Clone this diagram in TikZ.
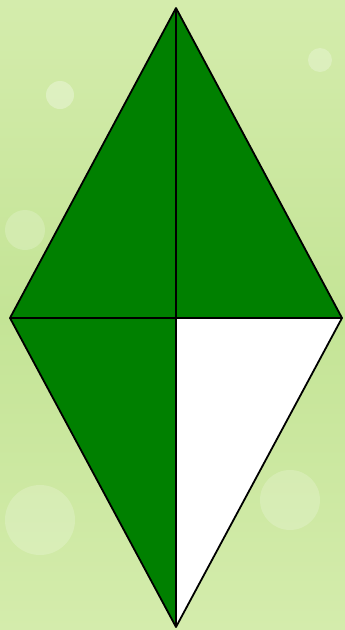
\documentclass[tikz,border=0pt]{standalone}
\usetikzlibrary{calc}
\definecolor{leafgreen}{RGB}{0,128,0}
\definecolor{bglight}{RGB}{222,242,190}
\definecolor{bgmid}{RGB}{212,236,172}
\definecolor{bgdark}{RGB}{196,228,150}
\begin{document}
\begin{tikzpicture}[x=1pt,y=-1pt,line join=round,
    edge/.style={line width=1.8pt,black}]
    % background
    \shade[top color=bgmid,bottom color=bgmid,middle color=bgdark] (0,0) rectangle (345,630);
    \fill[white,opacity=.3] (60,95) circle (14);
    \fill[white,opacity=.25] (320,60) circle (12);
    \fill[white,opacity=.2] (290,500) circle (30);
    \fill[white,opacity=.2] (40,520) circle (35);
    \fill[white,opacity=.2] (25,230) circle (20);
    \useasboundingbox (0,0) rectangle (345,630);
    % rhombus corners
    \coordinate (top) at (176,8);
    \coordinate (left) at (10,318);
    \coordinate (right) at (342,318);
    \coordinate (bottom) at (176,627);
    \coordinate (ctr) at (176,318);
    % parts
    \fill[leafgreen] (top) -- (left) -- (right) -- cycle;
    \fill[leafgreen] (left) -- (ctr) -- (bottom) -- cycle;
    \fill[white] (ctr) -- (right) -- (bottom) -- cycle;
    \draw[edge] (top) -- (right) -- (bottom) -- (left) -- cycle;
    \draw[edge] (top) -- (bottom);
    \draw[edge] (left) -- (right);
\end{tikzpicture}
\end{document}
